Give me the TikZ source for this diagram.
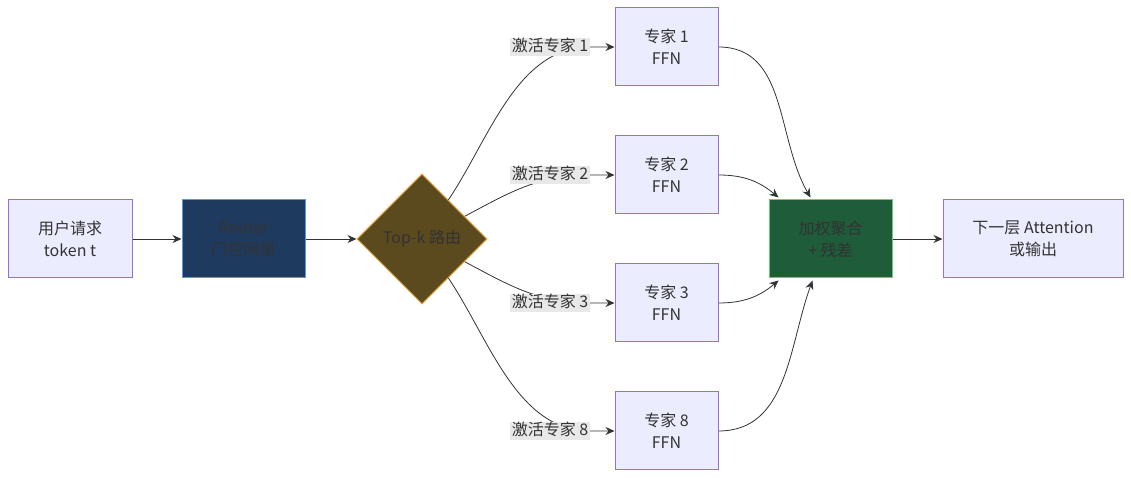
\documentclass[tikz,border=0pt]{standalone}
\usepackage{fontspec}
\setmainfont{Noto Sans CJK SC}
\usetikzlibrary{shapes.geometric,arrows.meta}
\definecolor{txt}{HTML}{333333}
\definecolor{lfill}{HTML}{ECECFF}
\definecolor{lborder}{HTML}{9370DB}
\definecolor{rfill}{HTML}{1F3A5F}
\definecolor{rborder}{HTML}{5B9BD5}
\definecolor{dfill}{HTML}{5C4A1F}
\definecolor{dborder}{HTML}{E0A040}
\definecolor{gfill}{HTML}{1E5C3A}
\definecolor{gborder}{HTML}{62CF7A}
\definecolor{lblbg}{HTML}{E8E8E8}
\definecolor{edge}{HTML}{333333}
\begin{document}
\begin{tikzpicture}[x=1pt,y=1pt,
  every node/.style={font=\fontsize{16}{22}\selectfont, text=txt, align=center},
  lbox/.style={draw=lborder, fill=lfill, line width=1pt, minimum height=78pt, inner sep=0pt},
  rbox/.style={draw=rborder, fill=rfill, line width=1pt, minimum height=78pt, minimum width=123pt, inner sep=0pt},
  gbox/.style={draw=gborder, fill=gfill, line width=1pt, minimum height=78pt, minimum width=123pt, inner sep=0pt},
  dia/.style={diamond, draw=dborder, fill=dfill, line width=1pt, minimum width=130pt, minimum height=130pt, inner sep=0pt, aspect=1},
  elabel/.style={fill=lblbg, inner sep=1.5pt, text height=12pt, text depth=3pt},
  conn/.style={draw=edge, line width=0.8pt},
  arr/.style={conn, -{Stealth[length=9pt,width=8pt]}}
]
\useasboundingbox (0,0) rectangle (1131,478);

\node[lbox, minimum width=124pt] (a) at (70,239) {用户请求\\token t};
\node[rbox] (r) at (243.5,239) {Router\\门控网络};
\node[dia] (d) at (422,239) {};
\node at (d.center) {Top-k 路由};
\node[lbox, minimum width=103pt] (e1) at (666.5,431) {专家 1\\FFN};
\node[lbox, minimum width=103pt] (e2) at (666.5,303) {专家 2\\FFN};
\node[lbox, minimum width=103pt] (e3) at (666.5,175) {专家 3\\FFN};
\node[lbox, minimum width=103pt] (e8) at (666.5,47) {专家 8\\FFN};
\node[gbox] (g) at (830.5,239) {加权聚合\\+ 残差};
\node[lbox, minimum width=180pt] (o) at (1033,239) {下一层 Attention\\或输出};

\coordinate (c1) at (590,431);
\coordinate (c2) at (590,303);
\coordinate (c3) at (590,175);
\coordinate (c8) at (590,47);

\draw[arr] (a) -- (r);
\draw[arr] (r) -- (d);
\draw[arr] (g) -- (o);

\draw[arr] (d.56) to[out=56,in=180,looseness=0.9] (c1) -- (e1);
\draw[arr] (d.28) to[out=28,in=180] (c2) -- (e2);
\draw[arr] (d.-28) to[out=-28,in=180] (c3) -- (e3);
\draw[arr] (d.-56) to[out=-56,in=180,looseness=0.9] (c8) -- (e8);

\draw[arr] (e1.east) to[out=0,in=120] ([xshift=-20pt,yshift=2pt]g.north);
\draw[arr] (e2.east) to[out=0,in=140] ([xshift=-52pt,yshift=2pt]g.north);
\draw[arr] (e3.east) to[out=0,in=220] ([xshift=-52pt,yshift=-2pt]g.south);
\draw[arr] (e8.east) to[out=0,in=250] ([xshift=-18pt,yshift=-2pt]g.south);

\node[elabel] (l1) at (550,431) {激活专家 1};
\node[elabel] (l2) at (550,303) {激活专家 2};
\node[elabel] (l3) at (550,175) {激活专家 3};
\node[elabel] (l8) at (550,47) {激活专家 8};
\end{tikzpicture}
\end{document}
